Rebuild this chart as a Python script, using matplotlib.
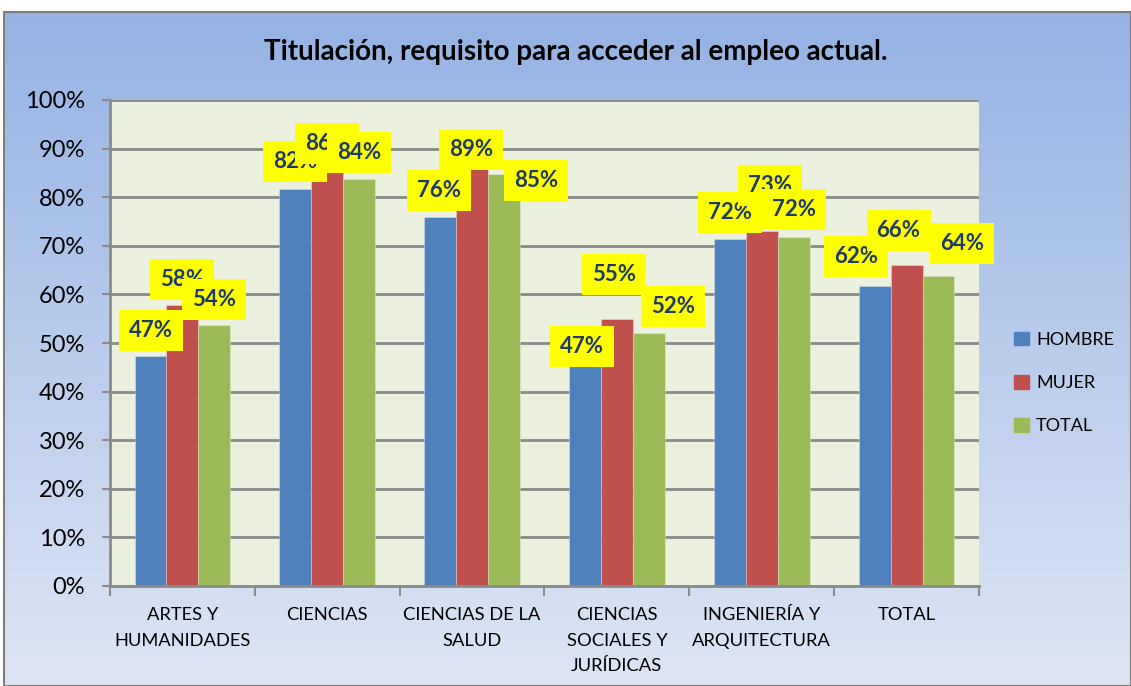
import matplotlib
matplotlib.use('Agg')
import matplotlib.pyplot as plt
import numpy as np
from matplotlib.patches import Patch

plt.rcParams['font.family'] = ['Lato', 'DejaVu Sans']

# Data
categories = ['ARTES Y\nHUMANIDADES', 'CIENCIAS', 'CIENCIAS DE LA\nSALUD',
              'CIENCIAS\nSOCIALES Y\nJURÍDICAS', 'INGENIERÍA Y\nARQUITECTURA', 'TOTAL']
hombre = [0.473, 0.817, 0.760, 0.473, 0.715, 0.617]
mujer = [0.578, 0.855, 0.886, 0.550, 0.731, 0.660]
total = [0.537, 0.838, 0.847, 0.521, 0.719, 0.638]
series_names = ['HOMBRE', 'MUJER', 'TOTAL']
colors = ['#4F81BD', '#C0504D', '#9BBB59']

# label nudges (pixels, dx and height above bar top), as moved in the original
label_nudges = [
    [(0, 26), (0, 27), (-1, 26), (-3, 10), (0, 26), (-19, 30)],
    [(0, 26), (0, 27), (-1, 6), (-3, 44), (8, 45), (-8, 35)],
    [(0, 26), (0, 26), (32, -6), (24, 26), (0, 27), (24, 32)],
]

W, H = 1131, 686
fig = plt.figure(figsize=(W / 100, H / 100), dpi=100)
fig.patch.set_facecolor('white')

# gradient chart background
bg = fig.add_axes([4 / W, 0, (W - 4) / W, (H - 12) / H])
grad = np.linspace(0, 1, 256).reshape(-1, 1)
top = np.array([0.58, 0.70, 0.89])
bot = np.array([0.87, 0.90, 0.96])
img = top + (bot - top) * grad[:, :, None] * np.ones((1, 1, 3))
bg.imshow(img, aspect='auto', extent=[0, 1, 0, 1], origin='upper')
bg.set_xlim(0, 1)
bg.set_ylim(0, 1)
bg.set_xticks([])
bg.set_yticks([])
for s in bg.spines.values():
    s.set_color('#7f7f7f')
    s.set_linewidth(1.5)

ax = fig.add_axes([110 / W, (H - 586) / H, (979 - 110) / W, (586 - 100) / H])
ax.set_facecolor('#EBF0DF')

x = np.arange(len(categories))
width = 0.22
all_vals = [hombre, mujer, total]
for i, (vals, name, c) in enumerate(zip(all_vals, series_names, colors)):
    ax.bar(x + (i - 1) * width, vals, width, color=c, label=name,
           edgecolor=(1, 1, 1, 0.35), linewidth=0.6, zorder=2)

# data labels in yellow boxes
for i, vals in enumerate(all_vals):
    for j, v in enumerate(vals):
        dx, dy = label_nudges[i][j]
        ax.annotate(f'{int(v * 100 + 0.5)}%', xy=(x[j] + (i - 1) * width, v),
                    xytext=(dx, dy), textcoords='offset pixels',
                    ha='center', va='center', fontsize=16, fontweight='bold',
                    color='#1F3A68', zorder=5, annotation_clip=False,
                    bbox=dict(boxstyle='square,pad=0.45', fc='#FFFF00', ec='none'))

ax.set_xlim(-0.5, len(categories) - 0.5)
ax.set_ylim(0, 1)
ticks = np.arange(0, 1.01, 0.1)
ax.set_yticks(ticks)
ax.set_yticklabels([f'{int(round(t * 100))}%' for t in ticks], fontsize=17)
ax.yaxis.grid(True, color='#8a8a8a', linewidth=2)
ax.set_axisbelow(True)

ax.set_xticks(x)
ax.set_xticklabels(categories, fontsize=13.2, linespacing=1.75)
ax.set_xticks(np.arange(-0.5, len(categories), 1), minor=True)
ax.tick_params(axis='x', which='major', length=0, pad=15)
ax.tick_params(axis='x', which='minor', length=7, color='#8a8a8a', width=1.5)
ax.tick_params(axis='y', length=6, color='#8a8a8a', width=1.5, pad=12)

for s in ['top', 'right']:
    ax.spines[s].set_visible(False)
for s in ['left', 'bottom']:
    ax.spines[s].set_color('#8a8a8a')
    ax.spines[s].set_linewidth(2)

fig.text(576 / W, 1 - 52 / H, 'Titulación, requisito para acceder al empleo actual.',
         ha='center', va='center', fontsize=20, fontweight='bold', color='black')

handles = [Patch(color=c) for c in colors]
fig.legend(handles, series_names, loc='center left', bbox_to_anchor=(998 / W, 1 - 383 / H),
           frameon=False, fontsize=13, handlelength=0.8, handleheight=0.8,
           handletextpad=0.4, labelspacing=1.5)

fig.savefig('out.png', dpi=100)
